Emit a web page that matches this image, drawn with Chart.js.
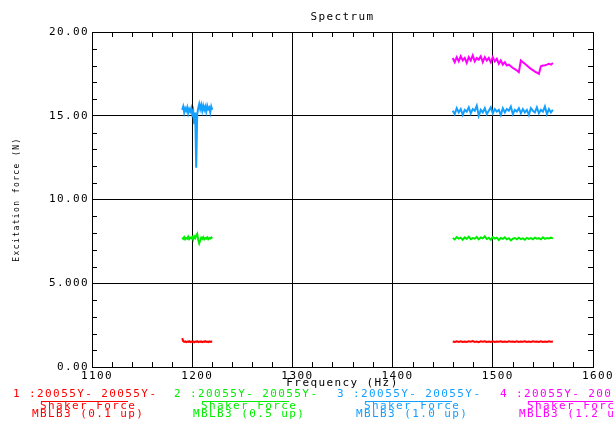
<!DOCTYPE html>
<html lang="en">
<head>
<meta charset="UTF-8">
<title>Spectrum</title>
<script src="https://cdn.jsdelivr.net/npm/chart.js"></script>
<style>
  body { margin: 0; background: #ffffff; }
  #spectrum { display: block; }
</style>
</head>
<body>
<canvas id="spectrum" width="613" height="424"></canvas>
<script>
// frequency samples (Hz) of the two sweep windows
const freqLow = [1190, 1191, 1192, 1193, 1194, 1195, 1196, 1197, 1198, 1199,
                 1200, 1201, 1202, 1203, 1204, 1205, 1206, 1207, 1208, 1209,
                 1210, 1211, 1212, 1213, 1214, 1215, 1216, 1217, 1218, 1219, 1220];
const freqHigh = [1460, 1462, 1464, 1466, 1468, 1470, 1472, 1474, 1476, 1478,
                  1480, 1482, 1484, 1486, 1488, 1490, 1492, 1494, 1496, 1498,
                  1500, 1502, 1504, 1506, 1508, 1510, 1512, 1514, 1516, 1518,
                  1520, 1522, 1524, 1526, 1528, 1530, 1532, 1534, 1536, 1538,
                  1540, 1542, 1544, 1546, 1548, 1550, 1552, 1554, 1556, 1558, 1560];

// excitation force (N), one array per run and window
const force01Low = [1.72, 1.55, 1.5, 1.53, 1.49, 1.52, 1.5, 1.54, 1.49, 1.52,
                    1.5, 1.53, 1.48, 1.52, 1.5, 1.54, 1.49, 1.52, 1.5, 1.53,
                    1.49, 1.52, 1.5, 1.54, 1.5, 1.52, 1.49, 1.53, 1.5, 1.52, 1.51];
const force01High = [1.52, 1.49, 1.53, 1.5, 1.54, 1.5, 1.52, 1.49, 1.53, 1.51,
                     1.55, 1.5, 1.52, 1.48, 1.53, 1.51, 1.54, 1.5, 1.52, 1.49,
                     1.53, 1.5, 1.52, 1.51, 1.54, 1.49, 1.52, 1.5, 1.53, 1.51,
                     1.52, 1.49, 1.54, 1.5, 1.52, 1.51, 1.53, 1.49, 1.52, 1.5,
                     1.53, 1.51, 1.52, 1.5, 1.54, 1.5, 1.52, 1.49, 1.53, 1.51, 1.52];

const force05Low = [7.72, 7.65, 7.75, 7.62, 7.7, 7.66, 7.78, 7.64, 7.72, 7.68,
                    7.76, 7.62, 7.8, 7.7, 7.85, 7.95, 7.6, 7.38, 7.55, 7.72,
                    7.65, 7.75, 7.62, 7.7, 7.66, 7.74, 7.63, 7.7, 7.67, 7.73, 7.66];
const force05High = [7.7, 7.62, 7.75, 7.66, 7.72, 7.6, 7.74, 7.65, 7.78, 7.63,
                     7.7, 7.66, 7.76, 7.62, 7.73, 7.68, 7.8, 7.64, 7.71, 7.6,
                     7.75, 7.67, 7.72, 7.58, 7.7, 7.65, 7.74, 7.62, 7.69, 7.56,
                     7.66, 7.7, 7.62, 7.72, 7.64, 7.68, 7.6, 7.71, 7.65, 7.7,
                     7.63, 7.72, 7.66, 7.69, 7.62, 7.74, 7.65, 7.7, 7.67, 7.72, 7.68];

const force10Low = [15.35, 15.55, 15.2, 15.45, 15.3, 15.5, 15.15, 15.4, 15.25, 15.45,
                    15.1, 15.3, 14.5, 15.2, 11.9, 15.1, 15.45, 15.7, 15.4, 15.65,
                    15.3, 15.6, 15.35, 15.55, 15.25, 15.6, 15.4, 15.5, 15.2, 15.55, 15.35];
const force10High = [15.3, 15.1, 15.45, 15.2, 15.4, 15.05, 15.35, 15.25, 15.5, 15.15,
                     15.4, 15.3, 15.6, 15.0, 15.35, 15.2, 15.45, 15.1, 15.3, 15.5,
                     15.15, 15.4, 15.25, 15.35, 15.05, 15.45, 15.2, 15.4, 15.3, 15.55,
                     15.1, 15.35, 15.25, 15.45, 15.15, 15.4, 15.2, 15.35, 15.05, 15.45,
                     15.3, 15.2, 15.5, 15.15, 15.35, 15.25, 15.55, 15.1, 15.4, 15.2, 15.35];

const force12High = [18.45, 18.2, 18.5, 18.25, 18.55, 18.3, 18.45, 18.15, 18.5, 18.3,
                     18.6, 18.25, 18.45, 18.35, 18.55, 18.2, 18.5, 18.3, 18.45, 18.2,
                     18.5, 18.25, 18.4, 18.1, 18.3, 18.05, 18.2, 18.0, 18.05, 17.95,
                     17.85, 17.78, 17.7, 17.6, 18.3, 18.2, 18.1, 18.0, 17.9, 17.8,
                     17.72, 17.64, 17.57, 17.5, 17.95, 18.0, 18.02, 18.05, 18.1, 18.05, 18.15];

const xTicks = [1100, 1200, 1300, 1400, 1500, 1600];
const xTickLabels = ['1100', '1200', '1300', '1400', '1500', '1600'];
const yTicks = [0, 5, 10, 15, 20];
const yTickLabels = ['0.00', '5.000', '10.00', '15.00', '20.00'];

const runHeaders = ['1 :20055Y- 20055Y-', '2 :20055Y- 20055Y-', '3 :20055Y- 20055Y-', '4 :20055Y- 20055Y-'];
const runChannel = 'Shaker Force';
const runNames = ['MBLB3 (0.1 up)', 'MBLB3 (0.5 up)', 'MBLB3 (1.0 up)', 'MBLB3 (1.2 up)'];
const runColors = ['#ff0000', '#00ee00', '#14a0ff', '#ff00ff'];

const monoFont = "'DejaVu Sans Mono', monospace";

function toPoints(freqs, values) {
    return freqs.map((f, i) => ({ x: f, y: values[i] }));
}

// a null between the windows breaks the line
const gap = { x: 1340, y: null };

const datasets = [
    { label: runNames[0], data: toPoints(freqLow, force01Low).concat([gap], toPoints(freqHigh, force01High)) },
    { label: runNames[1], data: toPoints(freqLow, force05Low).concat([gap], toPoints(freqHigh, force05High)) },
    { label: runNames[2], data: toPoints(freqLow, force10Low).concat([gap], toPoints(freqHigh, force10High)) },
    { label: runNames[3], data: toPoints(freqHigh, force12High) }
].map((ds, i) => Object.assign(ds, { borderColor: runColors[i], backgroundColor: runColors[i] }));

// wide plotter-style lettering
const spacingPlugin = {
    id: 'spacing',
    beforeDraw(chart) {
        chart.ctx.letterSpacing = '1.4px';
    }
};

// small inward minor ticks on all four sides
const minorTicksPlugin = {
    id: 'minorTicks',
    afterDraw(chart) {
        const { ctx, chartArea: a, scales: { x, y } } = chart;
        ctx.save();
        ctx.strokeStyle = '#000';
        ctx.lineWidth = 1;
        ctx.beginPath();
        for (let v = 1100; v <= 1600; v += 20) {
            if (v % 100 === 0) continue;
            const px = Math.round(x.getPixelForValue(v)) + 0.5;
            ctx.moveTo(px, a.bottom); ctx.lineTo(px, a.bottom - 5);
            ctx.moveTo(px, a.top); ctx.lineTo(px, a.top + 5);
        }
        for (let v = 0; v <= 20; v += 1) {
            if (v % 5 === 0) continue;
            const py = Math.round(y.getPixelForValue(v)) + 0.5;
            ctx.moveTo(a.left, py); ctx.lineTo(a.left + 5, py);
            ctx.moveTo(a.right, py); ctx.lineTo(a.right - 5, py);
        }
        ctx.stroke();
        ctx.restore();
    }
};

// run captions under the x axis
const runLegendPlugin = {
    id: 'runLegend',
    afterDraw(chart) {
        const ctx = chart.ctx;
        const starts = [13, 174, 337, 500];
        ctx.save();
        ctx.font = '11px ' + monoFont;
        ctx.textBaseline = 'middle';
        ctx.textAlign = 'left';
        runHeaders.forEach((head, i) => {
            const x0 = starts[i];
            ctx.fillStyle = runColors[i];
            ctx.strokeStyle = runColors[i];
            ctx.fillText(head, x0, 394);
            ctx.fillText(runChannel, x0 + 27, 406);
            ctx.fillText(runNames[i], x0 + 19, 414.5);
            ctx.lineWidth = 1;
            ctx.beginPath();
            ctx.moveTo(x0 + 28, 401.5);
            ctx.lineTo(x0 + 115, 401.5);
            ctx.stroke();
        });
        ctx.restore();
    }
};

new Chart(document.getElementById('spectrum'), {
    type: 'line',
    data: { datasets: datasets },
    options: {
        responsive: false,
        devicePixelRatio: 1,
        animation: false,
        spanGaps: false,
        layout: { padding: { top: 0, right: 20, bottom: 0, left: 0 } },
        elements: {
            point: { radius: 0 },
            line: { borderWidth: 2, tension: 0 }
        },
        plugins: {
            legend: { display: false },
            tooltip: { enabled: false },
            title: {
                display: true,
                text: 'Spectrum',
                fullSize: false,
                color: '#000',
                font: { family: monoFont, size: 11, weight: 'normal' },
                padding: { top: 11, bottom: 7.8 }
            }
        },
        scales: {
            x: {
                type: 'linear',
                min: 1100,
                max: 1600,
                afterBuildTicks: s => { s.ticks = xTicks.map(v => ({ value: v })); },
                afterFit: s => { s.height = 57; s.paddingLeft = 0; s.paddingRight = 0; },
                grid: { color: '#000', lineWidth: 1, drawTicks: false },
                border: { color: '#000', width: 1 },
                ticks: {
                    color: '#000',
                    font: { family: monoFont, size: 11 },
                    padding: 3,
                    labelOffset: 5,
                    maxRotation: 0,
                    autoSkip: false,
                    callback: (v, i) => xTickLabels[i]
                },
                title: {
                    display: true,
                    text: 'Frequency (Hz)',
                    color: '#000',
                    font: { family: monoFont, size: 11 },
                    padding: { top: 0, bottom: 34.4 }
                }
            },
            y: {
                min: 0,
                max: 20,
                afterBuildTicks: s => { s.ticks = yTicks.map(v => ({ value: v })); },
                afterFit: s => { s.width = 92; s.paddingTop = 0; s.paddingBottom = 0; },
                grid: { color: '#000', lineWidth: 1, drawTicks: false },
                border: { color: '#000', width: 1 },
                ticks: {
                    color: '#000',
                    font: { family: monoFont, size: 11 },
                    padding: 3,
                    autoSkip: false,
                    callback: (v, i) => yTickLabels[i]
                },
                title: {
                    display: true,
                    text: 'Excitation force (N)',
                    color: '#000',
                    font: { family: monoFont, size: 8 },
                    padding: { top: 12, bottom: 0 }
                }
            }
        }
    },
    plugins: [spacingPlugin, minorTicksPlugin, runLegendPlugin]
});
</script>
</body>
</html>
